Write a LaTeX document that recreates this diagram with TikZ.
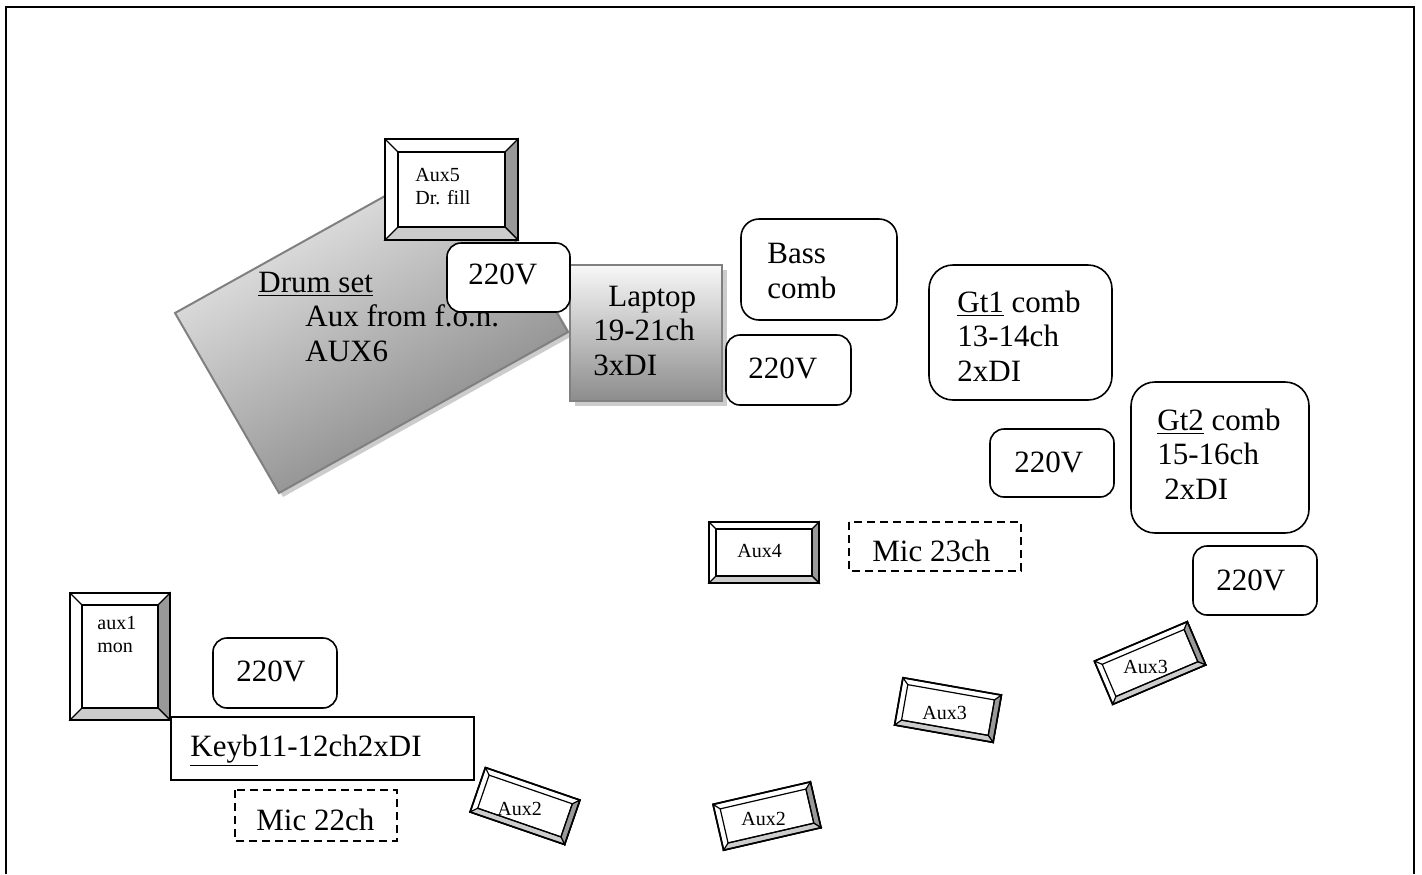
\documentclass[tikz,border=0pt]{standalone}
\usepackage{fontspec}
\setmainfont{Liberation Serif}
\begin{document}
\begin{tikzpicture}[x=0.5pt, y=-0.5pt,
    big/.style={font=\fontsize{15.5}{17.25}\selectfont, inner sep=0pt, anchor=base west, align=left},
    small/.style={font=\fontsize{10}{11.25}\selectfont, inner sep=0pt, anchor=base west, align=left},
    pbox/.style={draw, line width=0.8pt, fill=white, rounded corners=#1},
    pbox/.default=7pt,
    micbox/.style={draw, line width=1pt, dash pattern=on 4pt off 2.5pt},
    shadowfill/.style={fill=black!20},
    pics/monwedge/.style n args={3}{code={
        \filldraw[line width=0.8pt, fill=white] ({-#1/2},{-#2/2}) rectangle ({#1/2},{#2/2});
        \filldraw[line width=0.6pt, fill=black!40] ({#1/2},{-#2/2}) -- ({#1/2-#3},{-#2/2+#3}) -- ({#1/2-#3},{#2/2-#3}) -- ({#1/2},{#2/2}) -- cycle;
        \filldraw[line width=0.6pt, fill=black!20] ({-#1/2},{#2/2}) -- ({-#1/2+#3},{#2/2-#3}) -- ({#1/2-#3},{#2/2-#3}) -- ({#1/2},{#2/2}) -- cycle;
        \draw[line width=0.6pt] ({-#1/2+#3},{-#2/2+#3}) rectangle ({#1/2-#3},{#2/2-#3});
        \draw[line width=0.6pt] ({-#1/2},{-#2/2}) -- ({-#1/2+#3},{-#2/2+#3});
        \draw[line width=0.8pt] ({-#1/2},{-#2/2}) rectangle ({#1/2},{#2/2});
    }}]
    \useasboundingbox (0,0) rectangle (1422,874);
    % Frame
    \draw[line width=1pt] (6,874) -- (6,7) -- (1414,7) -- (1414,874);
    % Drum set
    \fill[shadowfill] (179,317) -- (468,156) -- (572,336) -- (283,497) -- cycle;
    \shadedraw[top color=black!6, bottom color=black!50, shading angle=29, draw=black!50, line width=1pt]
        (175,313) -- (464,152) -- (568,332) -- (279,493) -- cycle;
    \node[big] (drumtxt) at (258,361) {\underline{Drum set}\\\hspace*{23.5pt}Aux from f.o.n.\\\hspace*{23.5pt}AUX6};
    % Laptop
    \fill[shadowfill] (575,270) rectangle (727,406);
    \shadedraw[top color=black!3, bottom color=black!45, draw=black!50, line width=1pt] (570,265) rectangle (722,401);
    \node[big] (lapttxt) at (593,375) {\hspace*{7.5pt}Laptop\\19-21ch\\3xDI};
    % Monitors
    \pic at (451.5,189.5) {monwedge={133}{101}{13}};
    \node[small] (auxfive) at (415,204) {Aux5\\Dr. fill};
    \pic at (120,656.5) {monwedge={100}{127}{12}};
    \node[small] (auxone) at (97,652) {aux1\\mon};
    \pic at (764,552.5) {monwedge={110}{61}{7}};
    \node[small] (auxfour) at (737,557) {Aux4};
    \pic[rotate=-19] at (525,806) {monwedge={100}{47}{6}};
    \node[small] (auxtwoA) at (497,815) {Aux2};
    \pic[rotate=13] at (767,816) {monwedge={100}{47}{6}};
    \node[small] (auxtwoB) at (741,825) {Aux2};
    \pic[rotate=-10] at (948,710) {monwedge={100}{48}{6}};
    \node[small] (auxthreeA) at (922,719) {Aux3};
    \pic[rotate=23] at (1150,663) {monwedge={101}{47}{6}};
    \node[small] (auxthreeB) at (1123,673) {Aux3};
    % Power
    \draw[pbox] (447,243) rectangle (570,312);
    \node[big] (pwrA) at (468,284) {220V};
    \draw[pbox] (726,335) rectangle (851,405);
    \node[big] (pwrB) at (748,378) {220V};
    \draw[pbox] (990,429) rectangle (1114,497);
    \node[big] (pwrC) at (1014,472) {220V};
    \draw[pbox] (1193,546) rectangle (1317,615);
    \node[big] (pwrD) at (1216,590) {220V};
    \draw[pbox] (213,638) rectangle (337,708);
    \node[big] (pwrE) at (236,681) {220V};
    % Amps
    \draw[pbox=9pt] (741,219) rectangle (897,320);
    \node[big] (basstxt) at (767,298) {Bass\\comb};
    \draw[pbox=12pt] (929,265) rectangle (1112,400);
    \node[big] (gtonetxt) at (957,381) {\underline{Gt1} comb\\13-14ch\\2xDI};
    \draw[pbox=12pt] (1131,382) rectangle (1309,533);
    \node[big] (gttwotxt) at (1157,499) {\underline{Gt2} comb\\15-16ch\\\hspace*{3.5pt}2xDI};
    % Keys
    \draw[line width=0.8pt, fill=white] (171,717) rectangle (474,780);
    \node[big] (keybtxt) at (190,756) {\underline{Keyb}11-12ch2xDI};
    % Mics
    \draw[micbox] (849,522) rectangle (1021,571);
    \node[big] (micB) at (872,561) {Mic 23ch};
    \draw[micbox] (235,790) rectangle (397,841);
    \node[big] (micA) at (256,830) {Mic 22ch};
\end{tikzpicture}
\end{document}
